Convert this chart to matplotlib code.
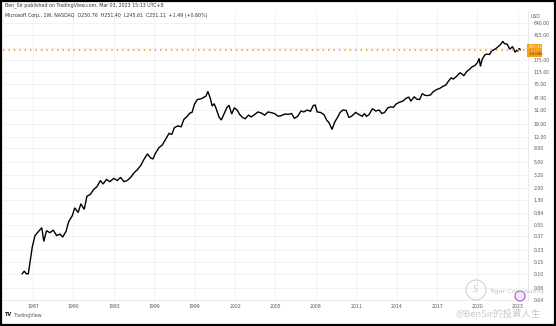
import matplotlib.pyplot as plt
from matplotlib.patches import Rectangle, Ellipse

# MSFT weekly close (split adjusted), decimal years
years = [
    1986.2, 1986.35, 1986.5, 1986.65, 1986.8, 1986.95, 1987.15, 1987.45, 1987.65, 1987.8,
    1988.0, 1988.25, 1988.5, 1988.75, 1989.0, 1989.2, 1989.45, 1989.65, 1989.9, 1990.1,
    1990.35, 1990.55, 1990.8, 1991.0, 1991.25, 1991.5, 1991.75, 1992.0, 1992.2, 1992.45,
    1992.7, 1993.0, 1993.25, 1993.5, 1993.75, 1994.0, 1994.25, 1994.5, 1994.75, 1995.0,
    1995.25, 1995.5, 1995.7, 1995.9, 1996.1, 1996.35, 1996.6, 1996.85, 1997.1, 1997.3,
    1997.5, 1997.75, 1998.0, 1998.2, 1998.45, 1998.65, 1998.8, 1999.0, 1999.2, 1999.45,
    1999.65, 1999.85, 1999.98, 2000.15, 2000.3, 2000.45, 2000.6, 2000.8, 2000.98, 2001.2,
    2001.4, 2001.55, 2001.75, 2001.95, 2002.15, 2002.35, 2002.55, 2002.75, 2003.0, 2003.2,
    2003.45, 2003.7, 2003.95, 2004.2, 2004.45, 2004.7, 2004.95, 2005.2, 2005.45, 2005.7,
    2005.95, 2006.2, 2006.4, 2006.65, 2006.9, 2007.1, 2007.35, 2007.6, 2007.8, 2007.95,
    2008.1, 2008.35, 2008.6, 2008.8, 2008.98, 2009.2, 2009.4, 2009.6, 2009.8, 2010.0,
    2010.25, 2010.45, 2010.65, 2010.95, 2011.2, 2011.45, 2011.6, 2011.75, 2011.95, 2012.2,
    2012.45, 2012.7, 2012.9, 2013.1, 2013.35, 2013.55, 2013.75, 2013.95, 2014.2, 2014.45,
    2014.7, 2014.9, 2015.05, 2015.3, 2015.5, 2015.7, 2015.9, 2016.1, 2016.3, 2016.5,
    2016.7, 2016.95, 2017.2, 2017.45, 2017.65, 2017.85, 2018.05, 2018.2, 2018.45, 2018.7,
    2018.85, 2018.98, 2019.2, 2019.4, 2019.6, 2019.8, 2020.0, 2020.12, 2020.22, 2020.35,
    2020.55, 2020.7, 2020.9, 2021.05, 2021.3, 2021.5, 2021.7, 2021.88, 2022.0, 2022.2,
    2022.4, 2022.6, 2022.8, 2022.9, 2023.0, 2023.1, 2023.17,
]
closes = [
    0.10, 0.11, 0.10, 0.10, 0.16, 0.26, 0.38, 0.45, 0.50, 0.31,
    0.45, 0.42, 0.46, 0.38, 0.40, 0.36, 0.44, 0.62, 0.75, 1.0,
    0.85, 1.15, 0.95, 1.5, 1.6, 1.9, 2.1, 2.6, 2.3, 2.7,
    2.5, 2.8, 2.6, 2.9, 2.5, 2.6, 2.9, 3.4, 3.8, 4.4,
    5.5, 6.6, 5.8, 5.5, 6.8, 8.2, 9.0, 11.0, 13.5, 13.0,
    16.5, 17.5, 17.0, 22.0, 24.5, 27.5, 28.0, 38.0, 44.0, 45.0,
    47.0, 50.0, 58.5, 47.0, 35.0, 38.0, 32.0, 24.0, 21.5, 27.0,
    33.5, 36.0, 26.5, 33.0, 30.5, 26.0, 23.5, 22.5, 25.5, 24.0,
    26.0, 28.5, 27.5, 25.5, 28.5, 27.8, 26.8, 24.5, 25.2, 26.5,
    26.2, 27.0, 22.8, 24.5, 29.5, 28.5, 30.5, 29.2, 35.5, 36.5,
    28.5, 28.0, 26.0, 21.5, 19.5, 15.5, 20.0, 23.5, 28.0, 30.5,
    30.0, 23.5, 24.5, 28.0, 26.0, 24.5, 27.0, 24.5, 26.0, 32.0,
    29.5, 30.5, 27.0, 28.0, 33.0, 34.0, 33.5, 37.5, 40.0, 41.5,
    46.0, 48.0, 41.5, 48.5, 44.5, 44.0, 54.0, 51.0, 50.5, 51.5,
    57.5, 62.0, 65.0, 70.0, 73.0, 84.0, 94.0, 90.0, 99.0, 112.0,
    107.0, 101.0, 117.0, 126.0, 138.0, 144.0, 160.0, 185.0, 140.0, 180.0,
    210.0, 215.0, 213.0, 240.0, 255.0, 275.0, 300.0, 336.0, 310.0, 305.0,
    255.0, 280.0, 230.0, 245.0, 240.0, 262.0, 251.11,
]
last_close = 251.11

price_ticks = [640, 415, 270, 175, 115, 75, 47, 31, 19, 12, 8, 5, 3.2, 2, 1.3,
               0.84, 0.55, 0.37, 0.23, 0.15, 0.10, 0.06, 0.04]
year_ticks = [1987, 1990, 1993, 1996, 1999, 2002, 2005, 2008, 2011, 2014, 2017, 2020, 2023]

W, H = 556, 326
fig = plt.figure(figsize=(W / 100, H / 100), dpi=100)
fig.patch.set_facecolor("white")

def fx(px):
    return px / W

def fy(py):
    return 1 - py / H

ax = fig.add_axes([fx(3), fy(300), fx(528) - fx(3), fy(10) - fy(300)])
ax.set_yscale("log")
ax.set_xlim(1984.77, 2023.75)
ax.set_ylim(0.0419, 1004)

ax.plot(years, closes, color="black", lw=1.0, solid_joinstyle="miter")
ax.axhline(last_close, color="#f5a11c", lw=1.3, ls=(0, (0.8, 2.2)))

ax.set_xticks(year_ticks)
ax.set_xticklabels([str(y) for y in year_ticks])
ax.set_yticks(price_ticks)
ax.set_yticklabels(["" if v == 270 else f"{v:.2f}" for v in price_ticks])
ax.yaxis.set_minor_locator(plt.NullLocator())
ax.yaxis.tick_right()
ax.tick_params(axis="both", length=0, labelsize=3.3, colors="#555555")
ax.tick_params(axis="y", pad=4)
ax.tick_params(axis="x", pad=3)
ax.grid(True, color="#eef0f4", lw=0.6)
ax.set_axisbelow(True)
for side in ["top", "left"]:
    ax.spines[side].set_visible(False)
ax.spines["right"].set_color("#e6e6e6")
ax.spines["bottom"].set_color("#e6e6e6")
ax.spines["right"].set_linewidth(0.6)
ax.spines["bottom"].set_linewidth(0.6)

# last price tag on the scale
fig.patches.append(Rectangle((fx(527), fy(57)), fx(542) - fx(527), fy(44) - fy(57),
                             transform=fig.transFigure, facecolor="#f5a11c",
                             edgecolor="none"))
fig.text(fx(529), fy(47.5), "251.11", fontsize=3.0, color="white", va="center")
fig.text(fx(529), fy(53.8), "1d 04h", fontsize=2.8, color="#5a3a00", va="center")
fig.text(fx(531), fy(16), "USD", fontsize=3.3, color="#555555", va="center")

# header
fig.text(fx(5), fy(5), "Ben_Sir published on TradingView.com, Mar 03, 2023 15:13 UTC+8",
         fontsize=3.4, color="#333333", va="center")
fig.text(fx(5), fy(16), "Microsoft Corp., 1W, NASDAQ  O250.76  H251.40  L245.61  C251.11  +1.49 (+0.60%)",
         fontsize=3.4, color="#333333", va="center")

# footer logo
fig.text(fx(5), fy(315), "TV", fontsize=3.6, color="#131722", weight="bold", va="center")
fig.text(fx(14), fy(315), "TradingView", fontsize=3.4, color="#555555", va="center")

# watermarks
fig.patches.append(Ellipse((fx(476), fy(290)), 20 / W, 20 / H, transform=fig.transFigure,
                           facecolor="none", edgecolor="#cccccc", lw=0.7))
fig.text(fx(476), fy(290), "S", fontsize=6, color="#cccccc", ha="center", va="center",
         style="italic")
fig.text(fx(489), fy(292), "Tiger Community", fontsize=4.6, color="#c0c0c0", va="center")
fig.patches.append(Ellipse((fx(520), fy(296)), 10 / W, 10 / H, transform=fig.transFigure,
                           facecolor="#f3e6fb", edgecolor="#a15fd6", lw=0.8))
fig.text(fx(455), fy(314), "@BenSir的投資人生", fontsize=6.8, color="#c8c8c8", va="center",
         family=["Noto Sans CJK TC", "DejaVu Sans"])

# outer frame
fig.patches.append(Rectangle((0.002, 0.003), 0.996, 0.994, transform=fig.transFigure,
                             facecolor="none", edgecolor="black", lw=1.6))

fig.savefig("out.png", dpi=100)
